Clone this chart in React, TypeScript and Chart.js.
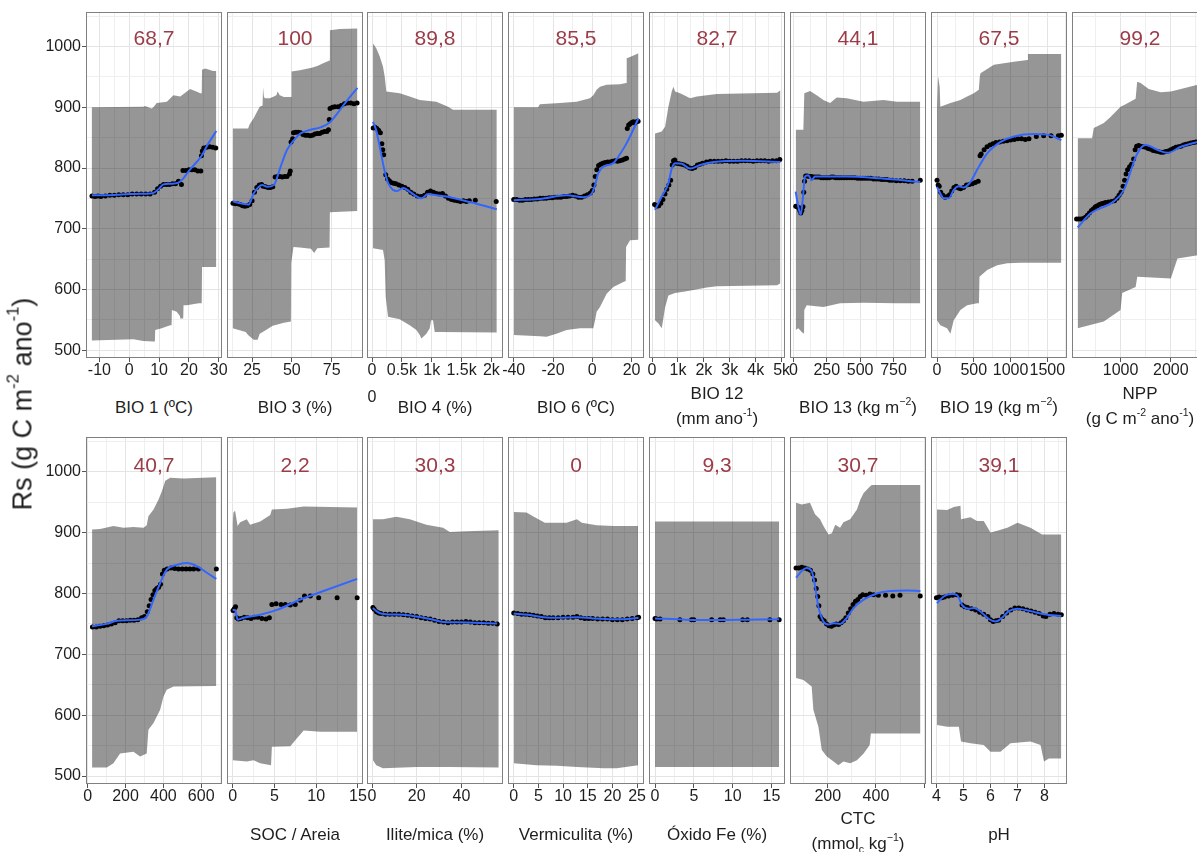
import React, { useEffect, useRef } from "react";
import { Chart, registerables } from "chart.js";

Chart.register(...registerables);

type Pt = [number, number];

// ---------------- DATA ----------------
// Top row
const bio1Upper: Pt[] = [[-12.6,900],[4.7,901],[5.3,902],[7.5,898],[8.1,900],[9.2,907],[12.6,909],[13.2,912],[14.8,920],[17.1,918],[19.3,926],[20.4,930],[22.5,926],[23.8,923],[24.3,923],[24.4,962],[25.5,964],[28.1,960],[29.2,960]];
const bio1Lower: Pt[] = [[-12.6,516],[1.4,518],[4.7,515],[8.1,514],[8.6,514],[8.7,533],[10.9,536],[13.7,541],[14.2,541],[14.3,566],[15.9,563],[17.0,556],[17.1,552],[18.1,552],[18.2,574],[19.3,574],[23.3,577],[24.3,577],[24.4,637],[29.2,637]];
const bio1Pts: Pt[] = [[-12.5,754],[-11.5,753],[-10.5,754],[-9.5,753],[-8,754],[-6.5,755],[-5,755],[-3.5,756],[-2,756],[-0.5,756],[1,757],[2.5,757],[4,757],[5.5,757],[7,757],[8.5,760],[9.5,766],[10.5,770],[11.5,773],[12.5,773],[13.5,773],[14.5,774],[15.5,774],[16.5,778],[17.5,773],[18,796],[19,796],[20,797],[21,797],[22,797],[23,795],[24,795],[24.2,820],[24.5,828],[25,833],[26,834],[27,835],[28,834],[29,833]];
const bio1Line: Pt[] = [[-12.5,755],[-8,755],[-4,756],[0,757],[4,757.5],[7,758],[8.5,760],[10,766],[11.5,773],[14,774],[16.5,776],[18,782],[19.5,792],[21,801],[23,812],[24.5,822],[26,836],[27.5,848],[29.2,861]];

const bio3Upper: Pt[] = [[12.8,865],[22.5,865],[23.5,872],[26,882],[28.8,896],[29.8,901],[31.6,903],[31.9,933],[32.4,918],[33,915],[36.1,915],[38,917],[40.3,920],[41,926],[42.4,920],[45,917],[49.6,917],[49.8,959],[55,961],[62.4,965],[66,968],[70,973],[73.7,977],[73.9,1027],[80,1029],[91.2,1030]];
const bio3Lower: Pt[] = [[12.8,536],[21,530],[22.5,525],[26,517],[28.5,517],[29.8,527],[33,532],[38,540],[45,545],[49.4,547],[49.6,643],[51,670],[55,669],[62,667],[64,660],[66,668],[73.7,669],[73.9,727],[91.2,729]];
const bio3Pts: Pt[] = [[13,742],[14.5,741],[16,741],[17.5,740],[19,738],[20.5,737],[22,738],[23.5,740],[25,746],[26.5,760],[28,768],[29.5,772],[31,773],[32,770],[33.5,769],[35,768],[36.5,768],[38,769],[39.5,785],[41,786],[42.5,786],[44,785],[45.5,786],[47,786],[48.5,790],[49,795],[49.5,843],[50.5,848],[51,858],[52.5,859],[54,859],[55.5,858],[57,855],[58.5,854],[60,854],[61.5,853],[63,854],[64.5,856],[66,857],[67.5,857],[69,859],[70.5,860],[72,860],[73,863],[73.5,880],[74,898],[75.5,900],[77,901],[79,901],[81,903],[83,906],[85,907],[87,907],[89,906],[91,907]];
const bio3Line: Pt[] = [[12.8,745],[17.6,742],[22.9,740],[26,758],[31.3,772],[34.5,769],[38.7,772],[42.9,802],[47,830],[51.3,846],[55.5,857],[61.8,863],[68,867],[73.3,874],[78.6,890],[84.9,912],[91.2,932]];

const bio4Upper: Pt[] = [[17,1005],[73,997],[128,984],[184,967],[212,951],[240,926],[464,923],[631,918],[799,912],[1078,909],[1274,901],[1358,896],[2090,896]];
const bio4Lower: Pt[] = [[17,668],[184,665],[212,648],[229,588],[268,555],[464,551],[631,541],[743,533],[800,525],[827,519],[911,527],[967,536],[990,549],[1022,549],[1050,530],[1134,530],[2090,529]];
const bio4Pts: Pt[] = [[20,866],[50,867],[80,865],[110,862],[140,858],[165,840],[180,830],[195,822],[230,789],[260,782],[290,779],[320,776],[360,775],[400,774],[450,772],[500,770],[550,768],[600,765],[650,760],[700,757],[760,754],[820,753],[880,755],[930,760],[980,762],[1030,760],[1080,758],[1130,757],[1180,758],[1230,754],[1280,750],[1330,748],[1380,747],[1430,746],[1480,745],[1530,746],[1580,745],[1630,746],[1730,747],[2080,745]];
const bio4Line: Pt[] = [[17,876],[70,862],[130,835],[200,800],[270,775],[352,764],[420,762],[520,767],[620,762],[700,756],[827,750],[939,757],[1078,755],[1246,753],[1637,744],[2090,732]];

const bio6Upper: Pt[] = [[-40,900],[-27.6,900],[-26.7,905],[-16.5,907],[-8,909],[-1.2,915],[0.5,920],[2.2,929],[3.9,934],[7.3,937],[14.1,938],[17.2,940],[17.5,981],[19.2,983],[23.5,989]];
const bio6Lower: Pt[] = [[-40,525],[-26.7,523],[-23.3,522],[-18.2,527],[-13.1,533],[-6.3,536],[0.5,536],[1.4,549],[2.2,563],[3.9,571],[7.3,593],[10.7,604],[15.8,612],[17.0,614],[17.2,670],[19.2,681],[23.5,682]];
const bio6Pts: Pt[] = [[-40,748],[-38.5,748],[-37,747],[-35.5,747],[-34,748],[-32.5,748],[-31,748],[-29.5,749],[-28,749],[-26.5,750],[-25,750],[-23.5,750],[-22,751],[-20.5,751],[-19,752],[-17.5,752],[-16,752],[-14.5,753],[-13,753],[-11.5,754],[-10,755],[-8.5,754],[-7,752],[-5.5,752],[-4,754],[-2.5,756],[-1,759],[0,763],[0.8,772],[1.5,786],[2.3,797],[3.2,804],[4.2,806],[5.3,808],[6.5,809],[7.8,810],[9,810],[10.2,811],[11.5,812],[12.8,811],[14,812],[15.3,813],[16.5,815],[17.4,816],[17.8,865],[18.5,871],[19.3,873],[20.1,875],[20.9,876],[21.7,874],[22.5,876],[23.3,877]];
const bio6Line: Pt[] = [[-40,747],[-26.7,749],[-13,755],[-4.6,752],[-0.3,758],[1.4,772],[3,791],[5.6,802],[10.7,808],[13.3,819],[17.5,841],[23.5,882]];

const bio12Upper: Pt[] = [[116,857],[374,860],[503,868],[632,901],[761,926],[826,934],[890,926],[1084,923],[1471,915],[1729,918],[2116,920],[2503,922],[4825,924],[4954,928]];
const bio12Lower: Pt[] = [[116,549],[250,544],[374,536],[430,550],[503,570],[632,590],[761,592],[890,594],[1213,596],[1600,599],[2116,603],[2503,605],[4825,607],[4954,610]];
const bio12Pts: Pt[] = [[100,740],[180,737],[260,738],[340,742],[420,748],[500,757],[570,765],[650,772],[720,780],[780,805],[830,812],[880,813],[950,808],[1050,807],[1150,806],[1250,805],[1350,803],[1450,800],[1550,799],[1650,801],[1750,805],[1850,806],[1950,808],[2100,810],[2250,811],[2400,811],[2550,811],[2700,811],[2850,812],[3000,811],[3150,811],[3300,811],[3450,812],[3600,812],[3750,812],[3900,811],[4050,812],[4200,812],[4350,812],[4500,811],[4650,812],[4800,812],[4930,814]];
const bio12Line: Pt[] = [[116,731],[374,753],[632,775],[761,799],[890,808],[1148,807],[1471,799],[1858,805],[2374,810],[3535,812],[4954,810]];

const bio13Upper: Pt[] = [[17.5,863],[75,863],[82,923],[125,927],[175,920],[225,912],[275,907],[325,916],[400,915],[525,909],[675,912],[775,909],[950,909]];
const bio13Lower: Pt[] = [[17.5,533],[37.5,536],[62.5,530],[80,527],[82,566],[100,574],[225,571],[350,577],[525,578],[775,577],[950,577]];
const bio13Pts: Pt[] = [[18,737],[28,736],[38,735],[48,730],[56,726],[64,730],[72,736],[78,760],[84,778],[92,787],[105,787],[120,786],[135,786],[150,785],[165,785],[180,785],[195,785],[210,784],[225,784],[240,784],[255,784],[270,784],[285,785],[300,785],[315,784],[330,784],[345,784],[360,784],[380,784],[400,784],[420,784],[440,784],[460,784],[480,783],[500,783],[520,783],[540,783],[560,783],[580,783],[600,782],[620,782],[640,782],[660,781],[680,781],[700,781],[720,780],[740,780],[770,779],[800,779],[830,779],[860,778],[890,778],[950,780]];
const bio13Line: Pt[] = [[17.5,761],[37.5,736],[55,723],[70,747],[87.5,786],[112,788],[137,780],[162,786],[400,786],[650,783],[950,777]];

const bio19Upper: Pt[] = [[0,901],[8,901],[14,951],[36,934],[45,901],[182,907],[318,912],[409,918],[500,923],[568,929],[582,951],[591,956],[773,970],[1045,975],[1227,978],[1236,988],[1690,988]];
const bio19Lower: Pt[] = [[0,549],[45,541],[136,536],[182,527],[227,549],[318,566],[409,574],[545,577],[570,577],[577,621],[682,632],[818,640],[955,643],[1136,644],[1690,644]];
const bio19Pts: Pt[] = [[0,780],[15,772],[30,770],[50,760],[80,755],[110,752],[140,753],[170,756],[200,762],[230,768],[260,770],[290,767],[320,766],[360,768],[400,772],[440,773],[480,774],[520,776],[560,778],[585,820],[600,823],[640,830],[680,835],[720,838],[760,840],[800,842],[850,843],[900,844],[950,845],[1000,846],[1050,847],[1100,848],[1150,848],[1200,847],[1250,848],[1350,852],[1450,853],[1550,853],[1650,853],[1690,854]];
const bio19Line: Pt[] = [[0,769],[45,758],[91,750],[159,750],[227,764],[295,770],[364,768],[455,777],[545,797],[682,824],[864,843],[1045,852],[1318,856],[1500,855],[1690,846]];

const nppUpper: Pt[] = [[146,849],[433,849],[467,866],[667,874],[800,884],[1000,901],[1100,905],[1300,914],[1330,942],[1400,940],[1560,930],[1800,925],[2000,926],[2200,930],[2533,937],[2600,938]];
const nppLower: Pt[] = [[146,536],[667,547],[1000,566],[1033,594],[1300,604],[1333,621],[2000,618],[2133,651],[2600,657]];
const nppPts: Pt[] = [[125,716],[170,716],[215,716],[260,717],[300,719],[340,722],[380,726],[420,730],[460,733],[500,736],[540,738],[580,740],[620,741],[660,742],[700,743],[760,744],[820,745],[880,746],[930,750],[970,755],[1010,760],[1050,770],[1080,780],[1110,790],[1140,797],[1180,802],[1220,806],[1260,815],[1290,830],[1320,836],[1360,837],[1400,836],[1450,835],[1500,834],[1550,832],[1600,831],[1650,829],[1700,828],[1750,827],[1800,826],[1850,826],[1900,827],[1950,828],[2000,830],[2050,832],[2100,834],[2150,835],[2200,836],[2250,838],[2300,839],[2350,840],[2400,841],[2450,842],[2500,843],[2550,843],[2600,843]];
const nppLine: Pt[] = [[146,702],[400,725],[867,745],[1067,764],[1333,824],[1500,838],[1733,830],[1933,825],[2200,835],[2533,843],[2600,844]];

// Bottom row
const var9Upper: Pt[] = [[23,905],[65,906],[136,911],[189,908],[242,909],[295,908],[312,912],[321,927],[348,938],[374,954],[392,968],[410,985],[436,990],[507,989],[680,991]];
const var9Lower: Pt[] = [[23,514],[101,514],[136,521],[171,537],[242,540],[277,532],[312,537],[321,576],[348,587],[383,609],[401,631],[418,642],[454,647],[680,648]];
const var9Pts: Pt[] = [[25,745],[45,745],[65,746],[85,747],[105,748],[125,750],[145,752],[165,755],[185,755],[205,755],[225,756],[245,756],[265,757],[285,760],[300,762],[315,770],[325,780],[335,790],[345,798],[355,805],[365,808],[375,810],[385,815],[395,832],[405,838],[420,840],[440,842],[460,841],[480,840],[500,840],[520,840],[540,840],[560,840],[585,840],[680,840]];
const var9Line: Pt[] = [[23,746],[101,750],[154,755],[277,757],[312,762],[348,790],[383,817],[418,839],[471,847],[524,850],[577,845],[630,834],[680,824]];

const socUpper: Pt[] = [[0,913],[0.1,933],[0.3,936],[0.6,911],[0.9,917],[1.7,922],[2.1,913],[3.3,918],[4.5,929],[4.7,938],[6.5,939],[8.5,943],[14.9,941]];
const socLower: Pt[] = [[0,526],[1.7,524],[2.5,526],[3.3,521],[4.6,518],[4.7,548],[6.9,549],[7.7,562],[8.5,575],[10.5,573],[14.9,573]];
const socPts: Pt[] = [[0.05,772],[0.2,775],[0.35,778],[0.5,760],[0.7,758],[1,759],[1.4,761],[1.8,760],[2.2,759],[2.6,761],[3,761],[3.5,759],[4,758],[4.4,760],[4.7,782],[5.2,783],[5.8,782],[6.3,782],[6.9,781],[7.5,782],[8.1,789],[8.6,796],[9.3,796],[10.3,793],[12.5,793],[14.9,793]];
const socLine: Pt[] = [[0,773],[0.3,773],[0.6,757],[1.3,760],[3.3,765],[5.3,773],[8.1,790],[11.3,806],[14.9,824]];

const iliteUpper: Pt[] = [[0.45,922],[4.9,922],[10.9,926],[16.9,922],[24.3,913],[31.8,908],[34.8,901],[42.2,902],[56.7,904]];
const iliteLower: Pt[] = [[0.45,526],[1.9,518],[4.9,513],[19.9,515],[34.8,515],[56.7,514]];
const ilitePts: Pt[] = [[0.4,777],[1,774],[2,770],[3,768],[4,767],[6,766],[8,766],[10,766],[12,766],[14,765],[16,764],[18,763],[20,762],[22,760],[24,759],[26,758],[28,756],[30,754],[32,753],[34,752],[36,753],[38,753],[40,753],[42,754],[44,753],[46,752],[48,752],[50,752],[52,751],[54,751],[56,750]];
const iliteLine: Pt[] = [[0.4,776],[2,771],[4,767],[8,765.5],[14,765],[20,762],[26,758],[32,753],[38,752.5],[46,752],[56,750.5]];

const vermUpper: Pt[] = [[0,934],[2.6,933],[3.9,927],[6.3,916],[10.7,916],[12.8,922],[13.8,916],[16.8,912],[20.2,911],[25.2,911]];
const vermLower: Pt[] = [[0,521],[4.6,518],[8.7,517],[12.8,515],[18.2,513],[20.9,513],[25.2,518]];
const vermPts: Pt[] = [[0,768],[0.8,767],[1.6,766],[2.4,766],[3.2,765],[4,764],[4.8,763],[5.6,762],[6.4,760],[7.2,760],[8,760],[9,760],[10,761],[11,761],[12,761],[12.8,762],[13.6,760],[14.4,759],[15.2,759],[16,759],[17,758],[18,758],[19,758],[20,757],[21,757],[22,757],[23,758],[24,759],[25,760],[25.3,761]];
const vermLine: Pt[] = [[0,767],[3,765],[6,761],[9,760],[13,761],[16,759],[20,757.5],[23,758],[25.3,760]];

const oxfeUpper: Pt[] = [[0,918],[16,918]];
const oxfeLower: Pt[] = [[0,515],[16,515]];
const oxfePts: Pt[] = [[0,759],[0.2,758],[0.65,758],[3.2,757],[4.7,757],[5,757],[7.3,757],[8.4,757],[8.8,757],[11.3,757],[11.9,757],[14.8,757],[16,757]];
const oxfeLine: Pt[] = [[0,759],[4,757],[8,756.5],[12,757],[16,757.5]];

const ctcUpper: Pt[] = [[68,949],[92,946],[126,949],[147,930],[168,922],[182,911],[203,897],[217,899],[231,913],[251,908],[265,917],[293,922],[321,938],[335,954],[349,965],[376,976],[383,978],[585,978]];
const ctcLower: Pt[] = [[68,661],[99,658],[133,647],[140,609],[161,581],[175,543],[196,532],[217,526],[244,518],[265,524],[293,521],[321,526],[349,537],[374,551],[379,570],[585,570]];
const ctcPts: Pt[] = [[68,842],[80,842],[92,843],[104,842],[116,840],[128,838],[138,832],[145,822],[152,808],[158,795],[163,780],[168,762],[175,758],[185,755],[195,750],[205,747],[215,746],[225,748],[235,750],[245,749],[255,752],[265,755],[275,760],[285,768],[295,775],[305,782],[315,787],[325,790],[335,795],[345,798],[360,797],[375,799],[390,798],[410,797],[440,797],[470,796],[500,797],[584,796]];
const ctcLine: Pt[] = [[68,826],[92,837],[112,842],[133,837],[147,812],[161,778],[182,754],[203,749],[224,751],[251,750],[279,760],[307,776],[349,790],[404,800],[460,804],[529,805],[585,804]];

const phUpper: Pt[] = [[4.02,938],[4.4,937],[4.64,942],[4.89,944],[4.91,922],[5.26,925],[5.5,919],[5.75,919],[6.0,900],[6.25,903],[6.62,908],[7.0,916],[7.48,908],[7.91,897],[8.62,897]];
const phLower: Pt[] = [[4.02,584],[4.4,581],[4.83,581],[4.91,557],[5.26,554],[5.75,551],[6.0,540],[6.37,540],[6.74,554],[7.48,557],[7.85,551],[7.98,524],[8.16,529],[8.62,529]];
const phPts: Pt[] = [[4.0,793],[4.1,794],[4.2,793],[4.3,794],[4.45,796],[4.6,797],[4.75,798],[4.85,797],[4.95,781],[5.05,778],[5.15,777],[5.3,775],[5.45,773],[5.6,769],[5.75,766],[5.9,762],[6.0,757],[6.1,754],[6.2,755],[6.3,756],[6.45,762],[6.6,768],[6.75,773],[6.9,776],[7.05,776],[7.2,775],[7.35,773],[7.5,771],[7.65,769],[7.8,767],[7.95,763],[8.05,762],[8.2,766],[8.35,767],[8.5,766],[8.62,765]];
const phLine: Pt[] = [[4.02,784],[4.27,795],[4.58,799],[4.77,797],[4.95,781],[5.2,775],[5.38,776],[5.69,768],[5.94,758],[6.19,754],[6.43,760],[6.68,771],[7.0,775],[7.48,771],[7.98,766],[8.62,763]];

// Panel labels and axes
const panelScores = ["68,7", "100", "89,8", "85,5", "82,7", "44,1", "67,5", "99,2", "40,7", "2,2", "30,3", "0", "9,3", "30,7", "39,1"];
const xTitles: string[][] = [
  ["BIO 1 (ºC)"], ["BIO 3 (%)"], ["BIO 4 (%)"], ["BIO 6 (ºC)"], ["BIO 12", "(mm ano^{-1})"],
  ["BIO 13 (kg m^{−2})"], ["BIO 19 (kg m^{−2})"], ["NPP", "(g C m^{-2} ano^{-1})"],
  [], ["SOC / Areia"], ["Ilite/mica (%)"], ["Vermiculita (%)"], ["Óxido Fe (%)"], ["CTC", "(mmol_{c} kg^{−1})"], ["pH"],
];
const yTitle = "Rs (g C m^{-2} ano^{-1})";
const xMins = [-14.5, 9.25, -84, -42.9, -116, -25, -82, 34, -9, -0.67, -2.24, -1.16, -0.78, 43, 3.8];
const xMaxs = [31.1, 94.7, 2194, 26.3, 5130, 993, 1767, 2740, 710, 15.6, 58.6, 26.4, 16.75, 608, 8.83];
const xTickVals: number[][] = [
  [-10, 0, 10, 20, 30], [25, 50, 75], [0, 500, 1000, 1500, 2000], [-40, -20, 0, 20], [0, 1000, 2000, 3000, 4000, 5000],
  [0, 250, 500, 750], [0, 500, 1000, 1500], [1000, 2000],
  [0, 200, 400, 600], [0, 5, 10, 15], [0, 20, 40], [0, 5, 10, 15, 20, 25], [0, 5, 10, 15], [200, 400, 600], [4, 5, 6, 7, 8],
];
const xTickText: string[][] = [
  ["-10", "0", "10", "20", "30"], ["25", "50", "75"], ["0", "0.5k", "1k", "1.5k", "2k"], ["-40", "-20", "0", "20"], ["0", "1k", "2k", "3k", "4k", "5k"],
  ["0", "250", "500", "750"], ["0", "500", "1000", "1500"], ["1000", "2000"],
  ["0", "200", "400", "600"], ["0", "5", "10", "15"], ["0", "20", "40"], ["0", "5", "10", "15", "20", "25"], ["0", "5", "10", "15"], ["200", "400", ""], ["4", "5", "6", "7", "8"],
];
const yMin = 487;
const yMax = 1057;
const yTickVals = [500, 600, 700, 800, 900, 1000];
const yTickText = ["500", "600", "700", "800", "900", "1000"];

const upperBands = [bio1Upper, bio3Upper, bio4Upper, bio6Upper, bio12Upper, bio13Upper, bio19Upper, nppUpper, var9Upper, socUpper, iliteUpper, vermUpper, oxfeUpper, ctcUpper, phUpper];
const lowerBands = [bio1Lower, bio3Lower, bio4Lower, bio6Lower, bio12Lower, bio13Lower, bio19Lower, nppLower, var9Lower, socLower, iliteLower, vermLower, oxfeLower, ctcLower, phLower];
const pointSets = [bio1Pts, bio3Pts, bio4Pts, bio6Pts, bio12Pts, bio13Pts, bio19Pts, nppPts, var9Pts, socPts, ilitePts, vermPts, oxfePts, ctcPts, phPts];
const smoothSets = [bio1Line, bio3Line, bio4Line, bio6Line, bio12Line, bio13Line, bio19Line, nppLine, var9Line, socLine, iliteLine, vermLine, oxfeLine, ctcLine, phLine];

// ---------------- LAYOUT / STYLE ----------------
const FONT = '"Liberation Sans", Arial, Helvetica, sans-serif';
const COL_LEFT = [86, 227, 367, 508, 649, 790, 931, 1072];
const PANEL_W = 136;
const ROW_TOP = [12, 437];
const ROW_H = [346, 347];
const PAD_L = 24;
const PAD_R = 24;
const PAD_T = 14;
const X_H = 28;
const Y_W = 52;
const SCORE_Y = [37, 464];
const TITLE_Y1 = [407, 834];
const TITLE_Y2 = [[393, 418], [818, 843]];

const GRID_MAJOR = "#e4e4e4";
const GRID_MINOR = "#efefef";
const TEXT_COL = "#1e1e1e";

function geom(i: number) {
  const row = i < 8 ? 0 : 1;
  const col = i < 8 ? i : i - 8;
  return { row, col, left: COL_LEFT[col], top: ROW_TOP[row], h: ROW_H[row], first: col === 0 };
}

function minorVals(majors: number[], min: number, max: number): number[] {
  const step = majors[1] - majors[0];
  let v = majors[0] - step / 2;
  while (v - step >= min) v -= step;
  const out: number[] = [];
  for (; v <= max; v += step) if (v >= min) out.push(v);
  return out;
}

const toXY = (a: Pt[]) => a.map(([x, y]) => ({ x, y }));

const borderPlugin = {
  id: "panelBorder",
  afterDatasetsDraw(chart: any) {
    const { ctx, chartArea } = chart;
    ctx.save();
    ctx.strokeStyle = "#808080";
    ctx.lineWidth = 1;
    ctx.strokeRect(chartArea.left + 0.5, chartArea.top + 0.5, chartArea.right - chartArea.left - 1, chartArea.bottom - chartArea.top - 1);
    ctx.restore();
  },
};

function Panel({ i }: { i: number }) {
  const ref = useRef<HTMLCanvasElement>(null);
  const g = geom(i);
  const yw = g.first ? Y_W : 0;
  const cw = PAD_L + yw + PANEL_W + PAD_R;
  const ch = PAD_T + g.h + X_H;
  const cl = g.left - PAD_L - yw;
  const ct = g.top - PAD_T;

  useEffect(() => {
    const xMajors = xTickVals[i];
    const xMinors = minorVals(xMajors, xMins[i], xMaxs[i]);
    const xAll = [...xMajors.filter((v) => v >= xMins[i] && v <= xMaxs[i]), ...xMinors].sort((a, b) => a - b);
    const xLabel = new Map<number, string>();
    xMajors.forEach((v, k) => xLabel.set(v, xTickText[i][k]));
    const yMinors = minorVals(yTickVals, yMin, yMax);
    const yAll = [...yTickVals, ...yMinors].sort((a, b) => a - b);
    const yLabel = new Map<number, string>();
    yTickVals.forEach((v, k) => yLabel.set(v, yTickText[k]));
    const isXMajor = (v: number) => xLabel.has(v);
    const isYMajor = (v: number) => yLabel.has(v);

    const chart = new Chart(ref.current as HTMLCanvasElement, {
      type: "line",
      data: {
        datasets: [
          { data: toXY(lowerBands[i]), borderColor: "transparent", borderWidth: 0, pointRadius: 0, fill: false, tension: 0, order: 3 } as any,
          { data: toXY(upperBands[i]), borderColor: "transparent", borderWidth: 0, pointRadius: 0, fill: "-1", backgroundColor: "rgba(0,0,0,0.41)", tension: 0, order: 3 } as any,
          { data: toXY(pointSets[i]), showLine: false, pointRadius: 2.5, pointBackgroundColor: "#000", pointBorderWidth: 0, borderColor: "#000", order: 2 } as any,
          { data: toXY(smoothSets[i]), borderColor: "#3366FF", borderWidth: 2, pointRadius: 0, fill: false, cubicInterpolationMode: "monotone", order: 1 } as any,
        ],
      },
      options: {
        responsive: false,
        maintainAspectRatio: false,
        animation: false,
        devicePixelRatio: 1,
        events: [],
        layout: { padding: { left: PAD_L, right: PAD_R, top: PAD_T, bottom: 0 } },
        plugins: { legend: { display: false }, tooltip: { enabled: false }, title: { display: false } },
        scales: {
          x: {
            type: "linear",
            min: xMins[i],
            max: xMaxs[i],
            afterBuildTicks: (s: any) => { s.ticks = xAll.map((v) => ({ value: v })); },
            afterFit: (s: any) => { s.height = X_H; },
            ticks: {
              autoSkip: false, maxRotation: 0, minRotation: 0, padding: 0, color: TEXT_COL,
              font: { family: FONT, size: 16, lineHeight: 1.1 },
              callback: (v: any) => xLabel.get(Number(v)) ?? "",
            },
            grid: {
              color: (c: any) => (c.tick && isXMajor(c.tick.value) ? GRID_MAJOR : GRID_MINOR),
              lineWidth: 1,
              drawTicks: true,
              tickLength: 4,
              tickColor: (c: any) => (c.tick && isXMajor(c.tick.value) ? "#555" : "rgba(0,0,0,0)"),
            },
            border: { display: false },
          },
          y: {
            type: "linear",
            min: yMin,
            max: yMax,
            afterBuildTicks: (s: any) => { s.ticks = yAll.map((v) => ({ value: v })); },
            afterFit: (s: any) => { s.width = yw; },
            ticks: {
              display: g.first, padding: 1, color: TEXT_COL,
              font: { family: FONT, size: 16 },
              callback: (v: any) => yLabel.get(Number(v)) ?? "",
            },
            grid: {
              color: (c: any) => (c.tick && isYMajor(c.tick.value) ? GRID_MAJOR : GRID_MINOR),
              lineWidth: 1,
              drawTicks: g.first,
              tickLength: 4,
              tickColor: (c: any) => (c.tick && isYMajor(c.tick.value) ? "#555" : "rgba(0,0,0,0)"),
            },
            border: { display: false },
          },
        },
      } as any,
      plugins: [borderPlugin],
    });
    return () => chart.destroy();
  }, [i]);

  return (
    <canvas
      ref={ref}
      width={cw}
      height={ch}
      style={{ position: "absolute", left: cl, top: ct, width: cw, height: ch }}
    />
  );
}

function Rich({ text }: { text: string }) {
  const parts: React.ReactNode[] = [];
  const re = /([\^_])\{([^}]*)\}/g;
  let last = 0;
  let m: RegExpExecArray | null;
  let k = 0;
  while ((m = re.exec(text))) {
    if (m.index > last) parts.push(text.slice(last, m.index));
    const sup = m[1] === "^";
    parts.push(
      <span key={k++} style={{ fontSize: "0.62em", position: "relative", top: sup ? "-0.75em" : "0.35em" }}>
        {m[2]}
      </span>
    );
    last = re.lastIndex;
  }
  if (last < text.length) parts.push(text.slice(last));
  return <>{parts}</>;
}

function Label({ x, y, size, color, children, rotate }: { x: number; y: number; size: number; color: string; children: React.ReactNode; rotate?: boolean }) {
  return (
    <div
      style={{
        position: "absolute", left: x, top: y, fontFamily: FONT, fontSize: size, color, lineHeight: 1,
        whiteSpace: "nowrap", transform: `translate(-50%, -50%)${rotate ? " rotate(-90deg)" : ""}`,
      }}
    >
      {children}
    </div>
  );
}

export default function App() {
  const ids = panelScores.map((_, i) => i);
  return (
    <div style={{ position: "absolute", left: 0, top: 0, width: 1197, height: 852, overflow: "hidden", background: "#fff" }}>
      {ids.map((i) => <Panel key={i} i={i} />)}
      {ids.map((i) => {
        const g = geom(i);
        const cx = g.left + PANEL_W / 2;
        const lines = xTitles[i];
        return (
          <React.Fragment key={"t" + i}>
            <Label x={cx} y={SCORE_Y[g.row]} size={21} color="#9B3C48">{panelScores[i]}</Label>
            {lines.length === 1 && (
              <Label x={cx} y={TITLE_Y1[g.row]} size={17} color={TEXT_COL}><Rich text={lines[0]} /></Label>
            )}
            {lines.length === 2 && lines.map((ln, k) => (
              <Label key={k} x={cx} y={TITLE_Y2[g.row][k]} size={17} color={TEXT_COL}><Rich text={ln} /></Label>
            ))}
          </React.Fragment>
        );
      })}
      <Label x={372} y={397} size={16} color={TEXT_COL}>0</Label>
      <Label x={23} y={404} size={27} color={TEXT_COL} rotate><Rich text={yTitle} /></Label>
    </div>
  );
}
